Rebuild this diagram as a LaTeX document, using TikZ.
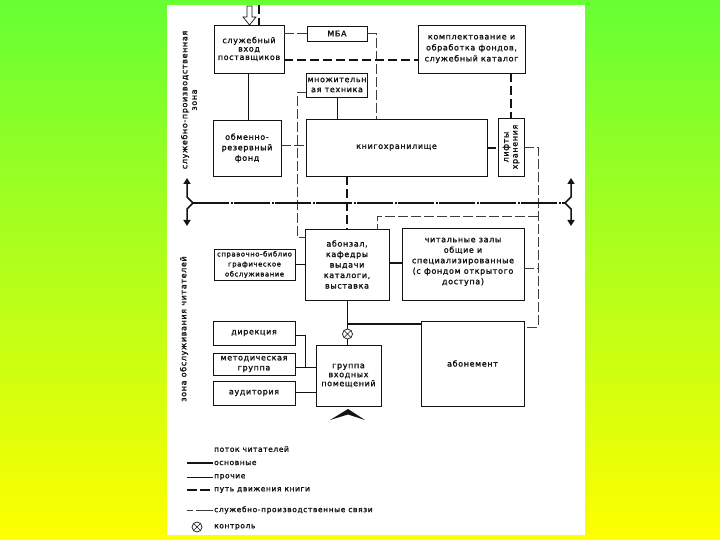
\documentclass[tikz,border=0pt]{standalone}
\usepackage{fontspec}
\setmainfont{DejaVu Sans}[LetterSpace=8, FakeBold=1.6]
\usetikzlibrary{arrows.meta}
\newcommand\bxf[2]{\fontsize{#1}{#2}\selectfont}
\definecolor{bgtop}{RGB}{102,255,51}
\definecolor{bgbot}{RGB}{255,255,0}
\definecolor{ink}{RGB}{20,20,20}
\definecolor{thinink}{RGB}{60,60,60}
\begin{document}
\begin{tikzpicture}[x=1pt,y=-1pt,
  box/.style={draw=ink, line width=0.8pt, inner sep=1pt, align=center, font=\bxf{8}{10.5}, text=ink},
  mainln/.style={draw=ink, line width=1.8pt},
  thinln/.style={draw=ink, line width=0.6pt},
  bookln/.style={draw=ink, line width=2pt, dash pattern=on 9pt off 4pt},
  svcln/.style={draw=thinink, line width=0.6pt, dash pattern=on 10pt off 3pt},
  axisln/.style={draw=ink, line width=1.6pt, dash pattern=on 36pt off 1.5pt on 2pt off 1.5pt},
  forkln/.style={draw=ink, line width=1.5pt, -{Triangle[length=6pt,width=7pt]}},
  sidelbl/.style={rotate=90, align=center, font=\bxf{8}{9.5}, text=ink, inner sep=0pt},
  lgd/.style={anchor=west, font=\bxf{7.5}{9}, text=ink, inner sep=1pt},
  ctrl/.style={circle, draw=ink, line width=0.7pt, minimum size=10pt, inner sep=0pt,
    path picture={\draw[ink, line width=0.6pt]
      (path picture bounding box.north west) -- (path picture bounding box.south east)
      (path picture bounding box.north east) -- (path picture bounding box.south west);}}
]
\useasboundingbox (0,0) rectangle (720,540);
\shade[top color=bgtop, bottom color=bgbot] (0,0) rectangle (720,540);
\fill[white] (167,5) rectangle (585,535);

% side labels
\node[sidelbl] (zone1) at (189,100) {служебно-производственная\\зона};
\node[sidelbl] (zone2) at (184,329) {зона обслуживания читателей};

% boxes
\node[box, minimum width=70pt, minimum height=48pt, font=\bxf{8}{8.4}] (vhod) at (249,49) {служебный\\вход\\поставщиков};
\node[box, minimum width=60pt, minimum height=15pt] (mba) at (337,33.5) {МБА};
\node[box, minimum width=107pt, minimum height=48pt, font=\bxf{8}{11}] (kompl) at (471.5,49) {комплектование и\\обработка фондов,\\служебный каталог};
\node[box, minimum width=60pt, minimum height=24pt, font=\bxf{8}{10}] (mnozh) at (337,85) {множительн\\ая техника};
\node[box, minimum width=68pt, minimum height=56pt] (obmen) at (247,148) {обменно-\\резервный\\фонд};
\node[box, minimum width=181pt, minimum height=57pt] (khran) at (396.5,147.5) {книгохранилище};
\node[box, minimum width=26pt, minimum height=58pt] (lift) at (511,147) {};
\node[rotate=90, align=center, font=\bxf{8}{9}, text=ink, inner sep=0pt] (liftt) at (lift.center) {лифты\\хранения};
\node[box, minimum width=84pt, minimum height=71pt] (abonzal) at (347,264.5) {абонзал,\\кафедры\\выдачи\\каталоги,\\выставка};
\node[box, minimum width=122pt, minimum height=72pt, text depth=6pt] (chit) at (463,264) {читальные залы\\общие и\\специализированные\\(с фондом открытого\\доступа)};
\node[box, minimum width=81pt, minimum height=31pt, font=\bxf{6.9}{10}] (sprav) at (254.5,264.5) {справочно-библио\\графическое\\обслуживание};
\node[box, minimum width=82pt, minimum height=24pt] (direk) at (254,333) {дирекция};
\node[box, minimum width=82pt, minimum height=22pt, font=\bxf{8}{10}] (metod) at (254,364) {методическая\\группа};
\node[box, minimum width=82pt, minimum height=24pt] (audit) at (254,393) {аудитория};
\node[box, minimum width=65pt, minimum height=61pt, font=\bxf{8}{9}] (gruppa) at (348.5,375.5) {группа\\входных\\помещений};
\node[box, minimum width=103pt, minimum height=85pt] (abonem) at (472.5,363.5) {абонемент};
\node[ctrl] (kontr) at (347.5,334) {};

% top entrance: hollow arrow and book path
\draw[ink, line width=0.7pt, fill=white] (247,6) -- (252,6) -- (252,17) -- (256,17) -- (249.5,25) -- (243,17) -- (247,17) -- cycle;
\coordinate (bookin) at (258.5,5);
\draw[bookln] (bookin) -- (bookin |- vhod.north);

% service links (thin dashed)
\draw[svcln] (vhod.east |- mba.west) -- (mba.west);
\draw[svcln] (mba.east) -- (376,33.5) -- (376,33.5 |- khran.north);
\draw[svcln] (obmen.east |- 0,145) -- (khran.west |- 0,145);
\draw[svcln] (mnozh.west |- 0,92) -- (297,92) -- (297,237) -- (abonzal.west |- 0,237);
\draw[svcln] (lift.east) -- (538,147) -- (538,327) -- (abonem.east |- 0,327);
\draw[svcln] (538,216) -- (377,216) -- (377,216 |- abonzal.north);
\draw[svcln] (chit.east |- 0,268) -- (538,268);

% book path (thick dashed)
\draw[bookln] (vhod.east |- 0,60) -- (kompl.west |- 0,60);
\draw[bookln] (lift.north |- kompl.south) -- (lift.north);
\draw[bookln] (khran.east |- 0,148) -- (lift.west |- 0,148);
\draw[bookln] (abonzal.north |- khran.south) -- (abonzal.north);

% other (thin solid)
\draw[thinln] (vhod.south -| 248,0) -- (obmen.north -| 248,0);
\draw[thinln] (mnozh.south) -- (khran.north -| mnozh.south);
\draw[thinln] (direk.east |- 0,335) -- (305,335) -- (305,367) -- (gruppa.west |- 0,367);
\draw[thinln] (metod.east |- 0,367) -- (305,367);
\draw[thinln] (audit.east |- 0,392) -- (gruppa.west |- 0,392);

% main reader flows (thick solid)
\draw[mainln] (sprav.east) -- (abonzal.west |- sprav.east);
\draw[mainln] (abonzal.east |- 0,263) -- (chit.west |- 0,263);
\draw[mainln] (abonzal.south -| kontr.north) -- (kontr.north);
\draw[mainln] (kontr.south) -- (gruppa.north -| kontr.south);
\draw[mainln] (347.5,324) -- (abonem.west |- 0,324);

% zone boundary with forks
\coordinate (lf) at (193,203);
\coordinate (rf) at (565,203);
\draw[axisln] (lf) -- (rf);
\draw[forkln] (lf) -- (187,197) -- (187,178);
\draw[forkln] (lf) -- (187,209) -- (187,226);
\draw[forkln] (rf) -- (571,197) -- (571,178);
\draw[forkln] (rf) -- (571,209) -- (571,226);

% reader entrance chevron
\fill[ink] (330,420) -- (348,409) -- (365,420) -- (348,414.5) -- cycle;

% legend
\node[lgd] (lg0) at (213,449) {поток читателей};
\node[lgd] (lg1) at (213,463) {основные};
\node[lgd] (lg2) at (213,477) {прочие};
\node[lgd] (lg3) at (213,490) {путь движения книги};
\node[lgd] (lg4) at (213,510) {служебно-производственные связи};
\node[lgd] (lg5) at (213,527) {контроль};
\draw[mainln] ([xshift=-26pt]lg1.west) -- (lg1.west);
\draw[thinln] ([xshift=-26pt]lg2.west) -- (lg2.west);
\draw[bookln, dash pattern=on 10pt off 3pt] ([xshift=-26pt]lg3.west) -- (lg3.west);
\draw[svcln, dash pattern=on 6pt off 3pt on 17pt off 0pt] ([xshift=-26pt]lg4.west) -- (lg4.west);
\node[ctrl] (lgc) at (197,527) {};
\end{tikzpicture}
\end{document}
